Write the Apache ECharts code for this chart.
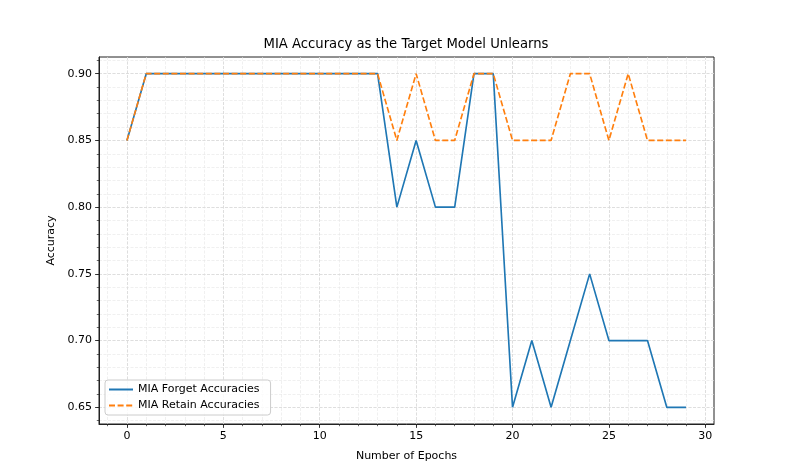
<!DOCTYPE html>
<html>
<head>
<meta charset="utf-8">
<script src="https://cdn.jsdelivr.net/npm/echarts@6/dist/echarts.min.js"></script>
<style>html,body{margin:0;padding:0;background:#fff;}#c{width:793px;height:476px;}</style>
</head>
<body>
<div id="c"></div>
<script>
const epochs = [0,1,2,3,4,5,6,7,8,9,10,11,12,13,14,15,16,17,18,19,20,21,22,23,24,25,26,27,28,29];
const forgetAcc = [0.85,0.90,0.90,0.90,0.90,0.90,0.90,0.90,0.90,0.90,0.90,0.90,0.90,0.90,0.80,0.85,0.80,0.80,0.90,0.90,0.65,0.70,0.65,0.70,0.75,0.70,0.70,0.70,0.65,0.65];
const retainAcc = [0.85,0.90,0.90,0.90,0.90,0.90,0.90,0.90,0.90,0.90,0.90,0.90,0.90,0.90,0.85,0.90,0.85,0.85,0.90,0.90,0.85,0.85,0.85,0.90,0.90,0.85,0.90,0.85,0.85,0.85];
const xMajorTicks = [0,5,10,15,20,25,30];
const xMinorTicks = [-1,0,1,2,3,4,5,6,7,8,9,10,11,12,13,14,15,16,17,18,19,20,21,22,23,24,25,26,27,28,29,30];
const yMajorTicks = [0.65,0.70,0.75,0.80,0.85,0.90];
const yMinorTicks = [0.64,0.65,0.66,0.67,0.68,0.69,0.70,0.71,0.72,0.73,0.74,0.75,0.76,0.77,0.78,0.79,0.80,0.81,0.82,0.83,0.84,0.85,0.86,0.87,0.88,0.89,0.90,0.91];
const seriesNames = ['MIA Forget Accuracies','MIA Retain Accuracies'];

const FONT = 'DejaVu Sans';
const xMin = -1.45, xMax = 30.45, yMin = 0.6375, yMax = 0.9125;
const chart = echarts.init(document.getElementById('c'), null, {renderer:'canvas'});
const axisCol = '#222';
const majorGrid = {show:true, lineStyle:{color:'#d9d9d9', width:0.8, type:[3,1.5]}};
const minorGrid = {show:true, lineStyle:{color:'#e6e6e6', width:0.6, type:[3,1.5]}};
chart.setOption({
  animation:false,
  backgroundColor:'#fff',
  title:{text:'MIA Accuracy as the Target Model Unlearns', left:406, top:38, padding:0, textAlign:'center',
    textStyle:{fontFamily:FONT, fontSize:13.2, fontWeight:'normal', color:'#000'}},
  grid:{left:99, right:79, top:57, bottom:52, show:true, borderColor:axisCol, borderWidth:1, backgroundColor:'transparent', containLabel:false},
  legend:{left:105, top:380, orient:'vertical', itemWidth:24, itemHeight:12, itemGap:5,
    padding:[4,11,4,3], backgroundColor:'rgba(255,255,255,0.8)', borderColor:'#cccccc', borderWidth:1, borderRadius:3,
    itemStyle:{opacity:0},
    textStyle:{fontFamily:FONT, fontSize:11, color:'#000'}, data:seriesNames},
  xAxis:[
    {type:'value', min:xMin, max:xMax, position:'bottom',
      name:'Number of Epochs', nameLocation:'middle', nameGap:27, nameTextStyle:{fontFamily:FONT, fontSize:11, color:'#000'},
      axisLine:{show:true, onZero:false, lineStyle:{color:axisCol, width:1}},
      axisTick:{show:true, customValues:xMajorTicks, length:3.9, inside:false, lineStyle:{color:axisCol, width:0.9}},
      axisLabel:{customValues:xMajorTicks, margin:7, fontFamily:FONT, fontSize:11, color:'#000', formatter:v=>String(v)},
      splitLine:majorGrid, z:3},
    {type:'value', min:xMin, max:xMax, position:'bottom',
      axisLine:{show:false, onZero:false},
      axisTick:{show:true, customValues:xMinorTicks, length:2.2, lineStyle:{color:axisCol, width:0.7}},
      axisLabel:{show:false, customValues:xMinorTicks},
      splitLine:minorGrid, z:1}
  ],
  yAxis:[
    {type:'value', min:yMin, max:yMax, position:'left',
      name:'Accuracy', nameLocation:'middle', nameGap:42, nameRotate:90, nameTextStyle:{fontFamily:FONT, fontSize:11, color:'#000'},
      axisLine:{show:true, onZero:false, lineStyle:{color:axisCol, width:1}},
      axisTick:{show:true, customValues:yMajorTicks, length:3.9, lineStyle:{color:axisCol, width:0.9}},
      axisLabel:{customValues:yMajorTicks, margin:7, fontFamily:FONT, fontSize:11, color:'#000', formatter:v=>v.toFixed(2)},
      splitLine:majorGrid, z:3},
    {type:'value', min:yMin, max:yMax, position:'left',
      axisLine:{show:false, onZero:false},
      axisTick:{show:true, customValues:yMinorTicks, length:2.2, lineStyle:{color:axisCol, width:0.7}},
      axisLabel:{show:false, customValues:yMinorTicks},
      splitLine:minorGrid, z:1}
  ],
  series:[
    {name:seriesNames[0], type:'line', xAxisIndex:0, yAxisIndex:0, data:epochs.map((e,i)=>[e,forgetAcc[i]]),
      symbol:'none', showSymbol:false, lineStyle:{color:'#1f77b4', width:1.65}, itemStyle:{color:'#1f77b4'}, z:5},
    {name:seriesNames[1], type:'line', xAxisIndex:0, yAxisIndex:0, data:epochs.map((e,i)=>[e,retainAcc[i]]),
      symbol:'none', showSymbol:false, lineStyle:{color:'#ff7f0e', width:1.65, type:[6,2.6]}, itemStyle:{color:'#ff7f0e'}, z:6}
  ]
});
</script>
</body>
</html>
